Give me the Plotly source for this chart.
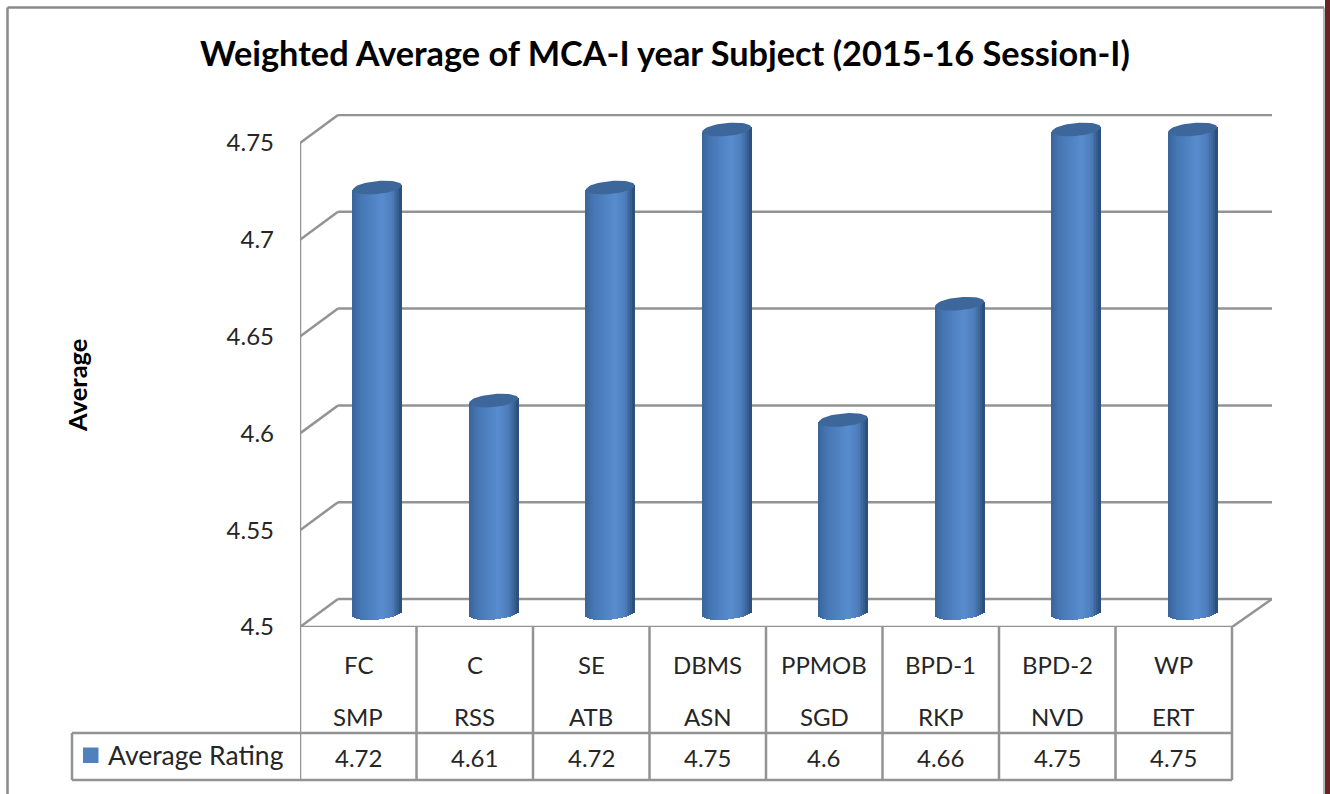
import math
import plotly.graph_objects as go

subjects = ["FC", "C", "SE", "DBMS", "PPMOB", "BPD-1", "BPD-2", "WP"]
faculty = ["SMP", "RSS", "ATB", "ASN", "SGD", "RKP", "NVD", "ERT"]
ratings = [4.72, 4.61, 4.72, 4.75, 4.6, 4.66, 4.75, 4.75]
tick_values = [4.5, 4.55, 4.6, 4.65, 4.7, 4.75]
tick_labels = ["4.5", "4.55", "4.6", "4.65", "4.7", "4.75"]
series_name = "Average Rating"
chart_title = "Weighted Average of MCA-I year Subject (2015-16 Session-I)"
y_title = "Average"

W, H = 1330, 794
L, R, T, B = 300, 1272, 114, 627
PX_X = 116.5          # pixels per category
PX_Y = 1936.0         # pixels per rating unit
GRID = "#939393"
FONT = "Lato, Carlito, 'Open Sans', sans-serif"
TEXT = "#262626"

dx = lambda px: px / PX_X
dy = lambda px: px / PX_Y
py = lambda p: (B - p) / (B - T)     # page pixel y -> paper
pxx = lambda p: (p - L) / (R - L)    # page pixel x -> paper

x_max = (R - L) / PX_X
y_max = 4.5 + (B - T) / PX_Y
depth_x, depth_y = dx(38), dy(28)
n = len(subjects)

shapes = []


def line(x0, y0, x1, y1, xref="x", yref="y", color=GRID, width=2.5):
    shapes.append(dict(type="line", x0=x0, y0=y0, x1=x1, y1=y1, xref=xref, yref=yref,
                       layer="below", line=dict(color=color, width=width)))


# walls and floor
for v in tick_values:
    line(0, v, depth_x, v + depth_y)
    line(depth_x, v + depth_y, x_max, v + depth_y)
line(0, 4.5, 0, 4.75)
line(0, 4.5, n, 4.5)
line(n, 4.5, x_max, 4.5 + depth_y)

# data table grid
for i in range(n + 1):
    line(i, py(627), i, py(780), yref="paper")
line(pxx(72), py(733), pxx(1232), py(733), xref="paper", yref="paper")
line(pxx(72), py(780), pxx(1232), py(780), xref="paper", yref="paper")
line(pxx(72), py(733), pxx(72), py(780), xref="paper", yref="paper")

# frame
line(pxx(7.5), py(7.5), pxx(1324), py(7.5), xref="paper", yref="paper", color="#8a8a8a", width=2.5)
line(pxx(7.5), py(7.5), pxx(7.5), py(794), xref="paper", yref="paper", color="#8a8a8a", width=2.5)
line(pxx(1324), py(7.5), pxx(1324), py(794), xref="paper", yref="paper", color="#9a9a9a", width=1.5)
shapes.append(dict(type="rect", xref="paper", yref="paper", x0=pxx(1325), x1=pxx(1331), y0=py(0), y1=py(794),
                   fillcolor="#6b2225", line=dict(width=0), layer="below"))
# legend swatch
shapes.append(dict(type="rect", xref="paper", yref="paper", x0=pxx(83), x1=pxx(98.5), y0=py(747.5), y1=py(763),
                   fillcolor="#4f81bd", line=dict(width=0), layer="below"))

# cylinders: vertical strips carrying the horizontal shading
STRIPS = 25
A, Bb, TILT = 24.5, 6.0, 2.2
SHIFT_X, SHIFT_Y = 19.0, 13.5
stops = [(0.0, (56, 100, 154)), (0.18, (70, 118, 180)), (0.6, (88, 140, 206)),
         (0.8, (78, 126, 188)), (0.93, (56, 96, 148)), (1.0, (42, 74, 114))]


def shade(t):
    for (a, ca), (b, cb) in zip(stops, stops[1:]):
        if t <= b:
            f = (t - a) / (b - a)
            return "rgb(%d,%d,%d)" % tuple(round(p + (q - p) * f) for p, q in zip(ca, cb))
    return "rgb(42,74,114)"


fig = go.Figure()
centers = [i + 0.5 + dx(SHIFT_X) for i in range(n)]
for s in range(STRIPS):
    t = (s + 0.5) / STRIPS
    u = 2 * t - 1
    xs = [c + dx(A * u) for c in centers]
    base_off = dy(SHIFT_Y - Bb * math.sqrt(max(1 - u * u, 0)) + TILT * u)
    top_off = dy(SHIFT_Y + TILT * u)
    bases = [4.5 + base_off] * n
    heights = [r + top_off - (4.5 + base_off) for r in ratings]
    fig.add_trace(go.Bar(x=xs, y=heights, base=bases, width=dx(2 * A / STRIPS + 0.8),
                         marker=dict(color=shade(t), line=dict(width=0)),
                         showlegend=False, hoverinfo="skip", name=series_name))

# cylinder caps
cap_x, cap_y = [], []
for c, r in zip(centers, ratings):
    for k in range(49):
        th = 2 * math.pi * k / 48
        cap_x.append(c + dx(A * math.cos(th)))
        cap_y.append(r + dy(SHIFT_Y + 6.5 * math.sin(th) + TILT * math.cos(th)))
    cap_x.append(None)
    cap_y.append(None)
fig.add_trace(go.Scatter(x=cap_x, y=cap_y, mode="lines", fill="toself", fillcolor="#3d679b",
                         line=dict(width=0, color="#3d679b"), showlegend=False, hoverinfo="skip"))

annotations = []


def label(x, y, text, size=24, xref="x", yref="paper", xanchor="center", **kw):
    annotations.append(dict(x=x, y=y, text=text, xref=xref, yref=yref, showarrow=False,
                            xanchor=xanchor, yanchor="middle",
                            font=dict(family=FONT, size=size, color=kw.pop("color", TEXT)), **kw))


for i in range(n):
    label(i + 0.5, py(664), subjects[i])
    label(i + 0.5, py(716), faculty[i])
    label(i + 0.5, py(757), str(ratings[i]))
label(pxx(106), py(755), series_name, size=26.5, xref="paper", xanchor="left")
label(pxx(665), py(53), "<b>" + chart_title + "</b>", size=34.3, xref="paper", color="#000000")
label(pxx(77), py(386), "<b>" + y_title + "</b>", size=25.5, xref="paper", color="#000000", textangle=-90)

fig.update_layout(
    width=W, height=H, autosize=False,
    margin=dict(l=L, r=W - R, t=T, b=H - B, pad=0),
    paper_bgcolor="white", plot_bgcolor="rgba(0,0,0,0)",
    barmode="overlay", bargap=0, showlegend=False,
    shapes=shapes, annotations=annotations,
    xaxis=dict(range=[0, x_max], showgrid=False, zeroline=False, showline=False,
               showticklabels=False, ticks="", fixedrange=True),
    yaxis=dict(range=[4.5, y_max], showgrid=False, zeroline=False, showline=False,
               tickmode="array", tickvals=tick_values, ticktext=tick_labels,
               ticks="", ticklabelstandoff=25, fixedrange=True,
               tickfont=dict(family=FONT, size=24, color=TEXT)),
)

fig.write_html("out.html", config={"displayModeBar": False},
               post_script="document.body.style.margin='0';document.documentElement.style.overflow='hidden';")
